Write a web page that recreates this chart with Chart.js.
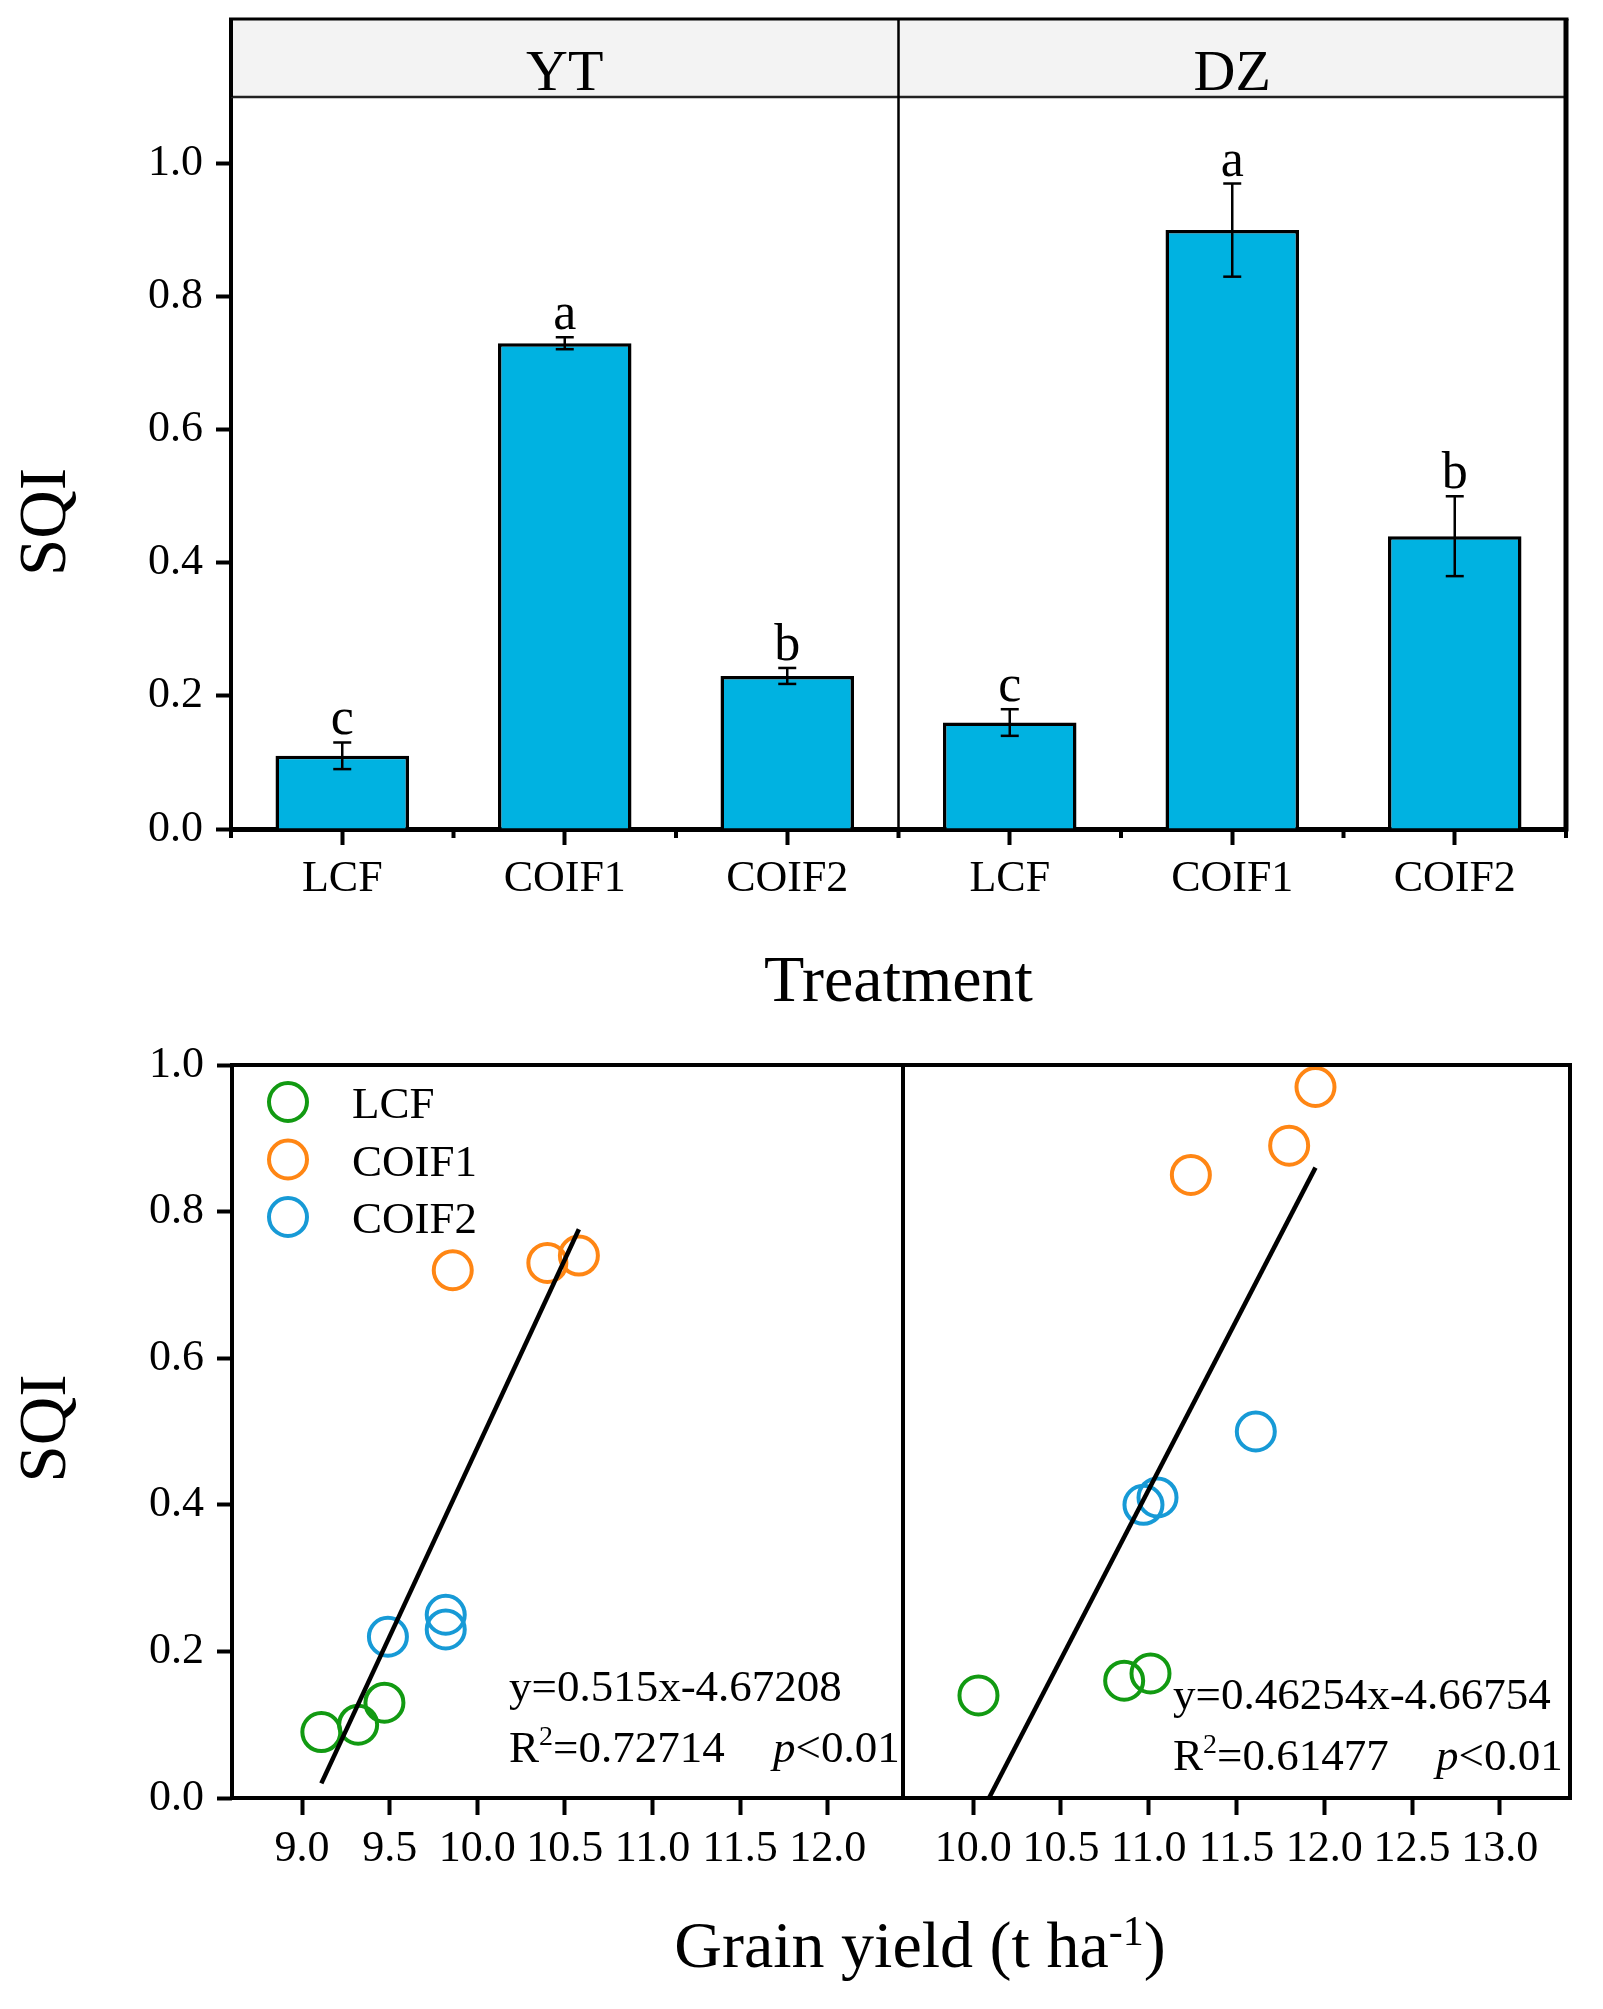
<!DOCTYPE html>
<html>
<head>
<meta charset="utf-8">
<title>SQI by treatment and SQI vs grain yield</title>
<script src="https://cdn.jsdelivr.net/npm/chart.js@4.4.1/dist/chart.umd.min.js"></script>
<style>
  html, body { margin: 0; padding: 0; background: #fff; }
  #wrap { position: relative; width: 1603px; height: 2009px; overflow: hidden; }
  canvas { position: absolute; }
  #barChart { left: 0; top: 0; }
  #ytScatter { left: 0; top: 1005px; }
  #dzScatter { left: 880px; top: 1005px; }
</style>
</head>
<body>
<div id="wrap">
  <canvas id="barChart" width="1603" height="1040"></canvas>
  <canvas id="ytScatter" width="1603" height="1004"></canvas>
  <canvas id="dzScatter" width="723" height="1004"></canvas>
</div>
<script>
// ------------- DATA -------------
const SITES = ['YT', 'DZ'];
const TREATMENTS = ['LCF', 'COIF1', 'COIF2'];

// bar panel: mean SQI, error bar half-length, significance letters
const YT_SQI = [0.11, 0.73, 0.23];
const YT_ERR = [0.02, 0.009, 0.012];
const YT_LETTERS = ['c', 'a', 'b'];
const DZ_SQI = [0.16, 0.90, 0.44];
const DZ_ERR = [0.02, 0.07, 0.06];
const DZ_LETTERS = ['c', 'a', 'b'];

// scatter panels: [grain yield, SQI] per treatment
const YT_LCF = [[9.11, 0.09], [9.32, 0.10], [9.47, 0.13]];
const YT_COIF1 = [[9.86, 0.72], [10.40, 0.73], [10.58, 0.74]];
const YT_COIF2 = [[9.49, 0.22], [9.82, 0.23], [9.82, 0.25]];
const YT_FIT = [[9.11, 0.02], [10.58, 0.776]];
const DZ_LCF = [[10.03, 0.14], [10.86, 0.16], [11.01, 0.17]];
const DZ_COIF1 = [[11.24, 0.85], [11.80, 0.89], [11.95, 0.97]];
const DZ_COIF2 = [[10.97, 0.40], [11.05, 0.41], [11.61, 0.50]];
const DZ_FIT = [[10.09, 0.0], [11.95, 0.86]];

// regression text
const YT_EQ = 'y=0.515x-4.67208';
const YT_R2 = '0.72714';
const DZ_EQ = 'y=0.46254x-4.66754';
const DZ_R2 = '0.61477';
const P_TEXT = '<0.01';

// axes
const BAR_SQI_RANGE = [0, 1.1];
const SCATTER_SQI_RANGE = [0, 1.0];
const YT_YIELD_RANGE = [8.6, 12.43];
const DZ_YIELD_RANGE = [9.6, 13.4];
const SQI_STEP = 0.2;
const YIELD_STEP = 0.5;

// look
const BAR_COLOR = '#00b2e1';
const SERIES_COLORS = ['#129a12', '#ff8614', '#179ad6'];
const SERIF = '"Liberation Serif", "Times New Roman", serif';

Chart.defaults.font.family = SERIF;
Chart.defaults.color = '#000';

// ------------- HELPERS -------------
function font(size, style){ return `${style || ''} ${size}px ${SERIF}`; }

// draw text runs (plain / superscript / italic) left to right on one baseline
function drawRuns(ctx, runs, x, y){
  let cx = x;
  runs.forEach(r => {
    ctx.font = font(r.size, r.style);
    ctx.fillText(r.text, cx, y + (r.dy || 0));
    cx += ctx.measureText(r.text).width;
  });
  return cx;
}
function runsWidth(ctx, runs){
  return runs.reduce((w, r) => { ctx.font = font(r.size, r.style); return w + ctx.measureText(r.text).width; }, 0);
}
function line(ctx, x1, y1, x2, y2, w){
  ctx.lineWidth = w;
  ctx.beginPath(); ctx.moveTo(x1, y1); ctx.lineTo(x2, y2); ctx.stroke();
}
function sqiTitle(ctx, x, y){
  ctx.save();
  ctx.translate(x, y); ctx.rotate(-Math.PI / 2);
  ctx.font = font(67); ctx.textAlign = 'center'; ctx.textBaseline = 'middle';
  ctx.fillText('SQI', 0, 0);
  ctx.restore();
}

// ------------- BAR PANEL -------------
const barLabels = SITES.flatMap(() => TREATMENTS);
const barValues = [...YT_SQI, ...DZ_SQI];
const barErrs = [...YT_ERR, ...DZ_ERR];
const barLetters = [...YT_LETTERS, ...DZ_LETTERS];

const barDecor = {
  id: 'barDecor',
  afterDatasetsDraw(chart){
    const { ctx, scales: { y } } = chart;
    ctx.save();
    ctx.strokeStyle = '#000'; ctx.fillStyle = '#000';
    ctx.textAlign = 'center'; ctx.textBaseline = 'alphabetic';
    chart.getDatasetMeta(0).data.forEach((bar, i) => {
      const top = y.getPixelForValue(barValues[i] + barErrs[i]);
      const bot = y.getPixelForValue(barValues[i] - barErrs[i]);
      line(ctx, bar.x, top, bar.x, bot, 2.5);
      line(ctx, bar.x - 9, top, bar.x + 9, top, 2.5);
      line(ctx, bar.x - 9, bot, bar.x + 9, bot, 2.5);
      ctx.font = font(52);
      ctx.fillText(barLetters[i], bar.x, top - 8);
    });
    ctx.restore();
  },
  afterDraw(chart){
    const { ctx, chartArea: a, scales: { x } } = chart;
    const stripTop = a.top - 78;
    const n = barLabels.length;
    ctx.save();
    ctx.strokeStyle = '#000'; ctx.fillStyle = '#f3f3f3';
    // facet strip
    ctx.fillRect(a.left, stripTop, a.right - a.left, a.top - stripTop);
    line(ctx, a.left - 2, stripTop, a.right + 2.5, stripTop, 3);
    ctx.strokeStyle = '#222';
    line(ctx, a.left, a.top, a.right, a.top, 2.5);
    ctx.strokeStyle = '#000';
    line(ctx, a.left, stripTop, a.left, a.top, 4);
    line(ctx, a.right, stripTop, a.right, a.bottom + 2.5, 5);
    // site divider
    const mid = x.getPixelForValue(TREATMENTS.length - 0.5);
    line(ctx, mid, stripTop, mid, a.bottom, 2.5);
    // minor ticks at category edges
    for (let i = 0; i <= n; i++) {
      const px = x.getPixelForValue(i - 0.5);
      line(ctx, px, a.bottom, px, a.bottom + 9, 4);
    }
    // strip labels
    ctx.fillStyle = '#000'; ctx.textAlign = 'center'; ctx.textBaseline = 'alphabetic';
    ctx.font = font(58);
    SITES.forEach((s, k) => {
      const l = x.getPixelForValue(k * TREATMENTS.length - 0.5);
      const r = x.getPixelForValue((k + 1) * TREATMENTS.length - 0.5);
      ctx.fillText(s, (l + r) / 2, a.top - 7);
    });
    // axis titles
    ctx.font = font(66);
    ctx.fillText('Treatment', (a.left + a.right) / 2, a.bottom + 172);
    sqiTitle(ctx, 47.5, 522);
    ctx.restore();
  }
};

new Chart(document.getElementById('barChart'), {
  type: 'bar',
  data: {
    labels: barLabels,
    datasets: [{
      data: barValues,
      backgroundColor: BAR_COLOR,
      borderColor: '#000',
      borderWidth: 3.5,
      barPercentage: 0.6,
      categoryPercentage: 1
    }]
  },
  options: {
    responsive: false,
    animation: false,
    layout: { padding: { top: 97, right: 37, left: 0, bottom: 0 } },
    plugins: { legend: { display: false }, tooltip: { enabled: false } },
    scales: {
      x: {
        grid: { offset: false, drawOnChartArea: false, tickLength: 16, tickWidth: 4, tickColor: '#000' },
        border: { color: '#000', width: 5 },
        ticks: { font: { size: 44 }, padding: 8, maxRotation: 0, autoSkip: false },
        afterFit: s => { s.height = 211; }
      },
      y: {
        min: BAR_SQI_RANGE[0], max: BAR_SQI_RANGE[1],
        ticks: { stepSize: SQI_STEP, includeBounds: false, font: { size: 44 }, padding: 13, callback: v => v.toFixed(1) },
        grid: { drawOnChartArea: false, tickLength: 15, tickWidth: 4, tickColor: '#000' },
        border: { color: '#000', width: 4 },
        afterFit: s => { s.width = 231; }
      }
    }
  },
  plugins: [barDecor]
});

// ------------- SCATTER PANELS -------------
const scatterDecor = {
  id: 'scatterDecor',
  afterDraw(chart, args, opts){
    const { ctx, chartArea: a } = chart;
    ctx.save();
    ctx.strokeStyle = '#000'; ctx.fillStyle = '#000';
    ctx.lineWidth = 4;
    ctx.strokeRect(a.left, a.top, a.right - a.left, a.bottom - a.top);

    // regression text
    ctx.textAlign = 'left'; ctx.textBaseline = 'alphabetic';
    const ex = a.left + opts.eqDx;
    drawRuns(ctx, [{ text: opts.eq, size: 45 }], ex, a.bottom - opts.eqDy);
    const ry = a.bottom - opts.eqDy + 61;
    drawRuns(ctx, [{ text: 'R', size: 45 }, { text: '2', size: 28, dy: -17 }, { text: '=' + opts.r2, size: 45 }], ex, ry);
    drawRuns(ctx, [{ text: 'p', size: 45, style: 'italic' }, { text: P_TEXT, size: 45 }], a.left + opts.pDx, ry);

    if (opts.legend) {
      TREATMENTS.forEach((t, i) => {
        const cy = a.top + 37 + i * 57.5;
        ctx.strokeStyle = SERIES_COLORS[i]; ctx.lineWidth = 4;
        ctx.beginPath(); ctx.arc(a.left + 56, cy, 19, 0, Math.PI * 2); ctx.stroke();
        ctx.font = font(45);
        ctx.fillText(t, a.left + 120, cy + 16);
      });
    }
    if (opts.titles) {
      sqiTitle(ctx, 47.5, (a.top + a.bottom) / 2 - 3);
      const runs = [{ text: 'Grain yield (t ha', size: 66 }, { text: '-1', size: 42, dy: -22 }, { text: ')', size: 66 }];
      drawRuns(ctx, runs, 920 - runsWidth(ctx, runs) / 2, a.bottom + 169);
    }
    ctx.restore();
  }
};

function pts(arr){ return arr.map(([x, y]) => ({ x, y })); }

function scatterConfig(groups, fit, yieldRange, showY, padding, deco){
  const datasets = TREATMENTS.map((t, i) => ({
    label: t,
    data: pts(groups[i]),
    pointRadius: 19,
    pointBorderWidth: 4,
    pointBorderColor: SERIES_COLORS[i],
    pointBackgroundColor: 'rgba(0,0,0,0)',
    showLine: false,
    order: 1
  }));
  datasets.push({
    label: 'fit',
    data: pts(fit),
    showLine: true,
    borderColor: '#000',
    borderWidth: 4.5,
    pointRadius: 0,
    fill: false,
    order: 0
  });
  const yScale = {
    display: showY,
    min: SCATTER_SQI_RANGE[0], max: SCATTER_SQI_RANGE[1],
    ticks: { stepSize: SQI_STEP, includeBounds: false, font: { size: 44 }, padding: 13, callback: v => v.toFixed(1) },
    grid: { drawOnChartArea: false, tickLength: 15, tickWidth: 4, tickColor: '#000' },
    border: { display: false }
  };
  if (showY) yScale.afterFit = s => { s.width = 232; };
  return {
    type: 'scatter',
    data: { datasets },
    options: {
      responsive: false,
      animation: false,
      layout: { padding },
      plugins: { legend: { display: false }, tooltip: { enabled: false }, scatterDecor: deco },
      scales: {
        x: {
          type: 'linear',
          min: yieldRange[0], max: yieldRange[1],
          ticks: { stepSize: YIELD_STEP, includeBounds: false, font: { size: 44 }, padding: 8, autoSkip: false, maxRotation: 0, callback: v => v.toFixed(1) },
          grid: { drawOnChartArea: false, tickLength: 17, tickWidth: 4, tickColor: '#000' },
          border: { display: false },
          afterFit: s => { s.height = 211; }
        },
        y: yScale
      }
    },
    plugins: [scatterDecor]
  };
}

new Chart(document.getElementById('ytScatter'), scatterConfig(
  [YT_LCF, YT_COIF1, YT_COIF2], YT_FIT, YT_YIELD_RANGE, true,
  { top: 60, left: 0, right: 700, bottom: 0 },
  { eq: YT_EQ, r2: YT_R2, eqDx: 277, eqDy: 97, pDx: 541, legend: true, titles: true }
));

new Chart(document.getElementById('dzScatter'), scatterConfig(
  [DZ_LCF, DZ_COIF1, DZ_COIF2], DZ_FIT, DZ_YIELD_RANGE, false,
  { top: 60, left: 23, right: 33, bottom: 0 },
  { eq: DZ_EQ, r2: DZ_R2, eqDx: 270, eqDy: 89, pDx: 533, legend: false, titles: false }
));
</script>
</body>
</html>
